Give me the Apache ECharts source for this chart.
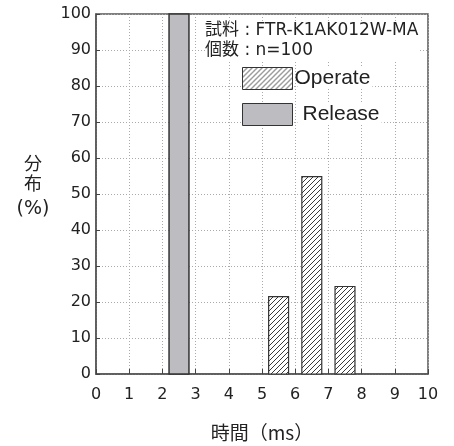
<!DOCTYPE html>
<html>
<head>
<meta charset="utf-8">
<script src="https://cdn.jsdelivr.net/npm/echarts@6/dist/echarts.min.js"></script>
<style>html,body{margin:0;padding:0;background:#fff}#c{width:454px;height:446px}</style>
</head>
<body>
<div id="c"></div>
<script>
// ---- data ----
const xTicks = [0,1,2,3,4,5,6,7,8,9,10];
const yTicks = [0,10,20,30,40,50,60,70,80,90,100];
const operateBins = [[5.2,5.8],[6.2,6.8],[7.2,7.8]];
const operateValues = [21.5, 54.8, 24.3];
const releaseBins = [[2.2,2.8]];
const releaseValues = [100];
const seriesNames = ['Operate','Release'];
const sampleText = ['試料 : FTR-K1AK012W-MA','個数 : n=100'];
const xName = '時間（ms）';
const yNameTop = '分\n布';
const yNameUnit = '(%)';

// hatch pattern
const pc = document.createElement('canvas');
pc.width = 5; pc.height = 5;
const g = pc.getContext('2d');
g.fillStyle = '#fff'; g.fillRect(0,0,5,5);
g.strokeStyle = '#222'; g.lineWidth = 0.9;
g.beginPath();
g.moveTo(-1,6); g.lineTo(6,-1);
g.moveTo(-1,1); g.lineTo(1,-1);
g.moveTo(4,6); g.lineTo(6,4);
g.stroke();
const hatch = {image: pc, repeat: 'repeat'};

function toData(bins, vals){ return bins.map((b,i)=>[b[0], b[1], vals[i]]); }

function renderBar(params, api){
  const p0 = api.coord([api.value(0), 0]);
  const p1 = api.coord([api.value(1), api.value(2)]);
  return {
    type: 'rect',
    shape: {x: p0[0], y: p1[1], width: p1[0]-p0[0], height: p0[1]-p1[1]},
    style: api.style()
  };
}

const chart = echarts.init(document.getElementById('c'), null, {renderer:'canvas'});
const font = "'DejaVu Sans', 'Noto Sans CJK JP', sans-serif";
const jpFont = "'Noto Sans CJK JP', 'DejaVu Sans', sans-serif";
chart.setOption({
  animation: false,
  backgroundColor: '#fff',
  grid: {left: 96, right: 26, top: 14, bottom: 72, containLabel: false, outerBoundsMode: 'none', show: true, borderColor: '#555', borderWidth: 1.5, backgroundColor: 'transparent'},
  xAxis: {
    type: 'value', min: xTicks[0], max: xTicks[xTicks.length-1], interval: 1,
    axisLine: {show: true, lineStyle: {color: '#555', width: 1.5}},
    axisTick: {show: true, inside: true, length: 5, lineStyle: {color: '#444'}},
    axisLabel: {color: '#222', fontSize: 16, fontFamily: font, margin: 13},
    splitLine: {show: true, lineStyle: {color: '#aaa', type: [1, 2], width: 1}},
    name: xName, nameLocation: 'middle', nameGap: 49,
    nameTextStyle: {color: '#222', fontSize: 19, fontFamily: jpFont}
  },
  yAxis: {
    type: 'value', min: yTicks[0], max: yTicks[yTicks.length-1], interval: 10,
    axisLine: {show: true, lineStyle: {color: '#555', width: 1.5}},
    axisTick: {show: true, inside: true, length: 4, lineStyle: {color: '#444'}},
    axisLabel: {color: '#222', fontSize: 16, fontFamily: font, margin: 5},
    splitLine: {show: true, lineStyle: {color: '#aaa', type: [1, 2], width: 1}}
  },
  legend: {
    orient: 'vertical', left: 242, top: 67, padding: 0, itemWidth: 50, itemHeight: 22, itemGap: 13,
    icon: 'rect',
    textStyle: {color: '#222', fontSize: 21, fontFamily: "'Liberation Sans', Arial, sans-serif", backgroundColor: '#fff'},
    data: [
      {name: seriesNames[0], itemStyle: {color: hatch, borderColor: '#333', borderWidth: 1}, textStyle: {padding: [0,2,0,-3]}},
      {name: seriesNames[1], itemStyle: {color: '#bdbdc1', borderColor: '#333', borderWidth: 1}, textStyle: {padding: [0,2,0,5]}}
    ],
    selectedMode: false
  },
  graphic: [
    {type: 'text', left: 205, top: 21, z: 10, style: {text: sampleText.join('\n'), fontSize: 17, lineHeight: 20, fontFamily: font, fill: '#222', backgroundColor: '#fff'}},
    {type: 'text', x: 33, y: 153, z: 10, style: {text: yNameTop, fontSize: 18, lineHeight: 20, fontFamily: jpFont, fill: '#222', align: 'center'}},
    {type: 'text', x: 33, y: 209, z: 10, style: {text: yNameUnit, fontSize: 19, fontFamily: font, fill: '#222', align: 'center', verticalAlign: 'middle'}}
  ],
  series: [
    {
      name: seriesNames[0], type: 'custom', renderItem: renderBar,
      encode: {x: [0,1], y: 2},
      itemStyle: {color: hatch, borderColor: '#333', borderWidth: 1.2},
      data: toData(operateBins, operateValues)
    },
    {
      name: seriesNames[1], type: 'custom', renderItem: renderBar,
      encode: {x: [0,1], y: 2},
      itemStyle: {color: '#bdbdc1', borderColor: '#333', borderWidth: 1.5},
      data: toData(releaseBins, releaseValues)
    }
  ]
});
</script>
</body>
</html>
